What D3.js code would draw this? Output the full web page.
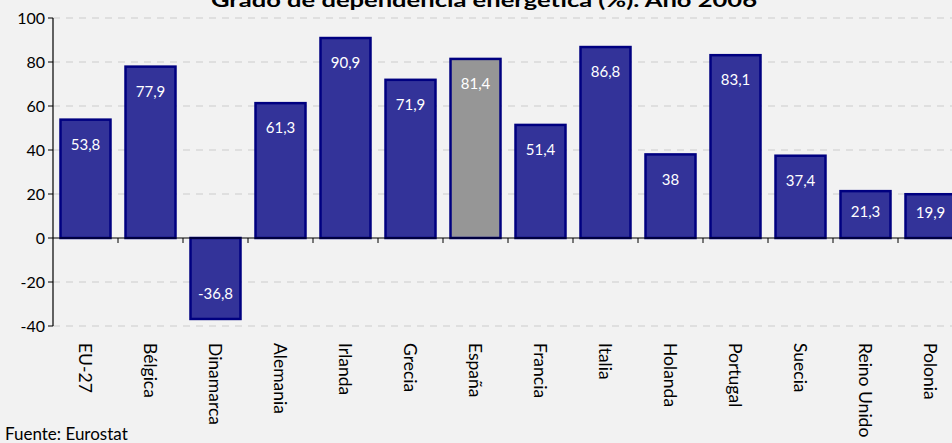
<!DOCTYPE html>
<html><head><meta charset="utf-8">
<script src="https://cdn.jsdelivr.net/npm/d3@7"></script>
<style>html,body{margin:0;padding:0;background:#f2f2f2;overflow:hidden}</style>
</head><body>
<svg id="c" width="952" height="443"></svg>
<script>
const categories = ["EU-27","Bélgica","Dinamarca","Alemania","Irlanda","Grecia","España","Francia","Italia","Holanda","Portugal","Suecia","Reino Unido","Polonia"];
const values = [53.8,77.9,-36.8,61.3,90.9,71.9,81.4,51.4,86.8,38,83.1,37.4,21.3,19.9];
const labels = ["53,8","77,9","-36,8","61,3","90,9","71,9","81,4","51,4","86,8","38","83,1","37,4","21,3","19,9"];
const yTicks = [-40,-20,0,20,40,60,80,100];
const highlight = "España";
const title = "Grado de dependencia energética (%). Año 2006";
const source = "Fuente: Eurostat";

const font = "Lato, 'Open Sans', sans-serif";
const svg = d3.select("#c");
svg.append("rect").attr("width",952).attr("height",443).attr("fill","#f2f2f2");

const left = 53, right = 963;
const y = d3.scaleLinear().domain([-40,100]).range([326,18]);
const x = d3.scaleBand().domain(categories).range([left,right]).paddingInner(0.2).paddingOuter(0.1);

// gridlines
svg.append("g").selectAll("line").data(yTicks.filter(d=>d!==0)).join("line")
  .attr("x1",left).attr("x2",952).attr("y1",d=>y(d)).attr("y2",d=>y(d))
  .attr("stroke","#cccccc").attr("stroke-width",1).attr("stroke-dasharray","7,6");

// bars
svg.append("g").selectAll("rect").data(values).join("rect")
  .attr("x",(d,i)=>x(categories[i])+1)
  .attr("width",x.bandwidth()-2)
  .attr("y",d=>y(Math.max(0,d)))
  .attr("height",d=>Math.abs(y(d)-y(0)))
  .attr("fill",(d,i)=>categories[i]===highlight?"#969696":"#333399")
  .attr("stroke","#000080").attr("stroke-width",2.5);

// value labels
svg.append("g").selectAll("text").data(values).join("text")
  .attr("x",(d,i)=>x(categories[i])+x.bandwidth()/2)
  .attr("y",d=>{
    const h=Math.abs(y(d)-y(0));
    const off=Math.min(25,h/2-3);
    return d>=0? y(d)+off : y(d)-off;
  })
  .attr("dy","0.35em").attr("text-anchor","middle")
  .attr("fill","#ffffff").attr("font-family",font).attr("font-size",15)
  .text((d,i)=>labels[i]);

// y axis
const ya = svg.append("g");
ya.append("line").attr("x1",left).attr("x2",left).attr("y1",y(100)).attr("y2",y(-40)).attr("stroke","#000").attr("stroke-width",1.2);
ya.selectAll("line.t").data(yTicks).join("line").attr("class","t")
  .attr("x1",left-5).attr("x2",left).attr("y1",d=>y(d)).attr("y2",d=>y(d)).attr("stroke","#000");
ya.selectAll("text").data(yTicks).join("text")
  .attr("x",45).attr("y",d=>y(d)).attr("dy","0.35em").attr("text-anchor","end")
  .attr("font-family",font).attr("font-size",16).attr("fill","#000").text(d=>d);

// x axis at zero
const xa = svg.append("g");
xa.append("line").attr("x1",left).attr("x2",952).attr("y1",y(0)).attr("y2",y(0)).attr("stroke","#000").attr("stroke-width",1.2);
xa.selectAll("line.t").data(categories.slice(1)).join("line").attr("class","t")
  .attr("x1",d=>x(d)-x.step()*0.1).attr("x2",d=>x(d)-x.step()*0.1)
  .attr("y1",y(0)).attr("y2",y(0)+5).attr("stroke","#000");
xa.selectAll("text").data(categories).join("text")
  .attr("transform",d=>`translate(${x(d)+x.bandwidth()/2},343) rotate(90)`)
  .attr("dy","0.35em").attr("text-anchor","start")
  .attr("font-family",font).attr("font-size",17.5).attr("fill","#000").text(d=>d);

// title
svg.append("text").attr("x",484).attr("y",7).attr("text-anchor","middle")
  .attr("font-family",font).attr("font-weight","bold").attr("font-size",19)
  .attr("textLength",546).attr("lengthAdjust","spacingAndGlyphs").text(title);

svg.append("text").attr("x",5).attr("y",440).attr("font-family",font).attr("font-size",17).text(source);
</script>
</body></html>
